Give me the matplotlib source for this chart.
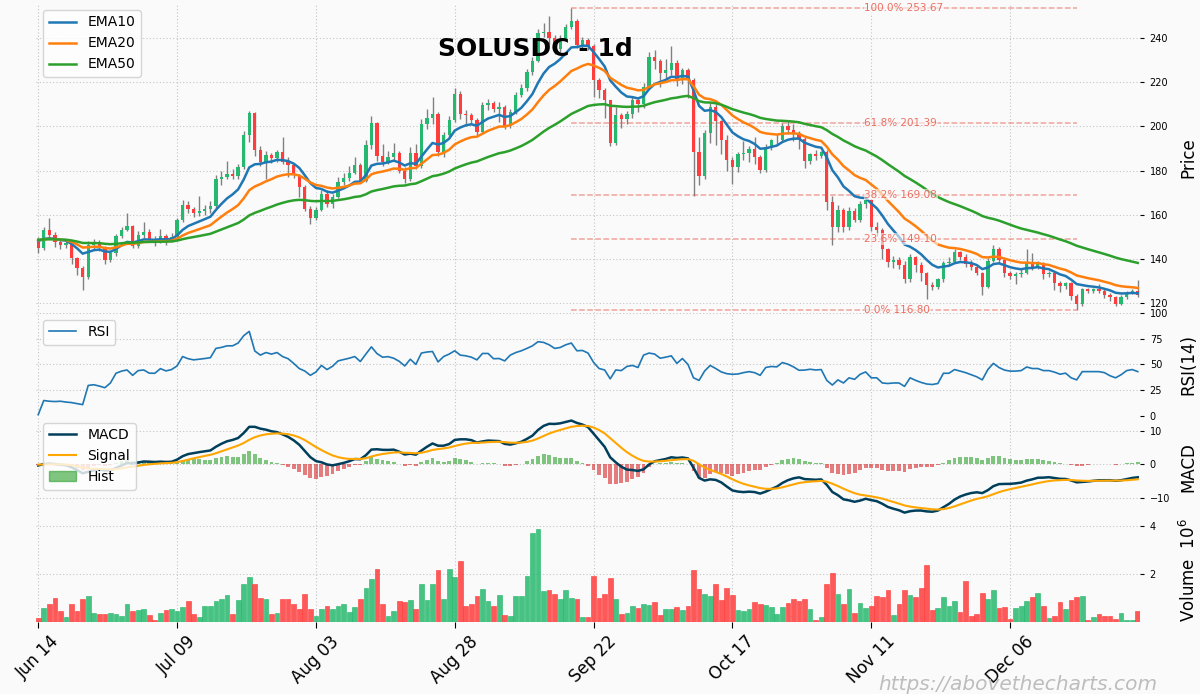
import numpy as np
import pandas as pd
import matplotlib
matplotlib.use('Agg')
import matplotlib.pyplot as plt
from matplotlib.patches import Patch

# SOLUSDC daily bars, 2025-06-14 .. 2025-12-29
start_date = '2025-06-14'
prev_close = 148.8   # close of the bar before the first one, seeds the EMAs

opens = [148.8, 144.8, 153.3, 150.8, 147.8, 146.2, 147.0, 140.2, 135.7, 131.6,
         146.5, 147.6, 145.5, 139.5, 142.5, 150.5, 153.3, 154.8, 146.0, 151.0,
         152.3, 148.5, 148.0, 150.3, 148.3, 150.0, 157.6, 164.6, 162.8, 160.6,
         161.8, 162.6, 164.0, 176.1, 177.3, 178.5, 177.4, 181.7, 196.0, 206.1,
         189.2, 184.0, 187.0, 185.5, 188.5, 184.0, 182.4, 178.0, 172.5, 162.8,
         158.5, 162.3, 169.5, 165.0, 168.0, 175.0, 176.5, 179.0, 182.5, 175.5,
         191.5, 201.5, 186.5, 184.0, 186.0, 188.0, 180.0, 176.0, 188.0, 182.0,
         201.0, 204.0, 205.8, 188.5, 196.0, 203.0, 214.6, 205.8, 205.0, 203.0,
         197.5, 209.6, 210.6, 208.0, 209.0, 200.1, 206.6, 214.4, 217.4, 224.7,
         229.6, 242.5, 242.8, 240.2, 235.2, 239.8, 245.0, 247.8, 236.7, 239.3,
         236.4, 220.9, 216.4, 211.9, 192.6, 205.0, 203.5, 205.5, 212.0, 210.0,
         218.0, 231.5, 229.6, 224.4, 225.4, 228.8, 221.5, 225.5, 220.9, 188.5,
         177.6, 197.1, 209.0, 202.5, 194.0, 185.0, 181.7, 187.7, 188.0, 190.0,
         186.0, 180.2, 190.8, 193.7, 194.0, 200.1, 198.6, 196.8, 194.5, 184.4,
         187.4, 186.8, 188.5, 165.9, 154.3, 162.2, 154.6, 161.5, 157.6, 164.8,
         166.6, 154.5, 153.0, 144.7, 138.7, 139.5, 137.2, 130.7, 141.0, 137.2,
         133.4, 128.1, 127.4, 130.7, 138.2, 138.7, 143.2, 141.0, 137.9, 136.4,
         133.4, 127.1, 139.2, 144.7, 139.5, 133.4, 132.2, 133.1, 133.7, 138.0,
         136.4, 138.0, 133.1, 133.7, 128.9, 127.7, 128.9, 123.2, 119.5, 126.2,
         125.6, 126.2, 125.6, 123.6, 122.6, 119.8, 122.9, 124.7, 125.4]

closes = [144.8, 153.3, 150.8, 147.8, 146.2, 147.0, 140.2, 135.7, 131.6, 146.5,
          147.6, 145.5, 139.5, 142.5, 150.5, 153.3, 154.8, 146.0, 151.0, 152.3,
          148.5, 148.0, 150.3, 148.3, 150.0, 157.6, 164.6, 162.8, 160.6, 161.8,
          162.6, 164.0, 176.1, 177.3, 178.5, 177.4, 181.7, 196.0, 206.1, 189.2,
          184.0, 187.0, 185.5, 188.5, 184.0, 182.4, 178.0, 172.5, 162.8, 158.5,
          162.3, 169.5, 165.0, 168.0, 175.0, 176.5, 179.0, 182.5, 175.5, 191.5,
          201.5, 186.5, 184.0, 186.0, 188.0, 180.0, 176.0, 188.0, 182.0, 201.0,
          204.0, 205.8, 188.5, 196.0, 203.0, 214.6, 205.8, 205.0, 203.0, 197.5,
          209.6, 210.6, 208.0, 209.0, 200.1, 206.6, 214.4, 217.4, 224.7, 229.6,
          242.5, 242.8, 240.2, 235.2, 239.8, 245.0, 247.8, 236.7, 239.3, 236.4,
          220.9, 216.4, 211.9, 192.6, 205.0, 203.5, 205.5, 212.0, 210.0, 218.0,
          231.5, 229.6, 224.4, 225.4, 228.8, 221.5, 225.5, 220.9, 188.5, 177.6,
          197.1, 209.0, 202.5, 194.0, 185.0, 181.7, 187.7, 188.0, 190.0, 186.0,
          180.2, 190.8, 193.7, 194.0, 200.1, 198.6, 196.8, 194.5, 184.4, 187.4,
          186.8, 188.5, 165.9, 154.3, 162.2, 154.6, 161.5, 157.6, 164.8, 166.6,
          154.5, 153.0, 144.7, 138.7, 139.5, 137.2, 130.7, 141.0, 137.2, 133.4,
          128.1, 127.4, 130.7, 138.2, 138.7, 143.2, 141.0, 137.9, 136.4, 133.4,
          127.1, 139.2, 144.7, 139.5, 133.4, 132.2, 133.1, 133.7, 138.0, 136.4,
          138.0, 133.1, 133.7, 128.9, 127.7, 128.9, 123.2, 119.5, 126.2, 125.6,
          126.2, 125.6, 123.6, 122.6, 119.8, 122.9, 124.7, 125.4, 123.6]

highs = [150.0, 154.5, 158.6, 152.0, 148.5, 148.3, 147.8, 140.8, 137.0, 148.0,
         149.0, 148.5, 146.0, 143.8, 151.5, 154.5, 160.6, 155.5, 152.5, 156.5,
         153.5, 150.5, 153.5, 151.5, 151.8, 158.5, 166.5, 166.0, 163.5, 168.5,
         164.5, 166.0, 178.0, 180.0, 184.4, 180.5, 183.0, 198.0, 206.8, 206.5,
         191.0, 189.0, 188.0, 189.5, 195.3, 186.0, 183.0, 178.5, 173.5, 164.0,
         163.5, 171.0, 171.0, 169.5, 177.0, 178.7, 182.0, 186.0, 183.5, 194.0,
         204.5, 202.0, 192.0, 189.0, 192.5, 189.0, 181.5, 190.5, 192.0, 203.5,
         208.0, 213.5, 206.5, 197.5, 204.5, 217.5, 216.0, 207.5, 206.0, 204.0,
         211.0, 212.5, 211.5, 211.0, 209.5, 208.0, 215.5, 219.0, 226.0, 231.5,
         244.0, 247.0, 249.9, 241.5, 241.5, 246.5, 253.67, 248.5, 240.5, 240.0,
         237.5, 222.0, 217.5, 212.0, 208.7, 206.0, 207.0, 213.5, 213.0, 219.5,
         233.5, 234.5, 230.5, 230.5, 236.5, 230.0, 226.5, 226.5, 222.0, 195.0,
         198.5, 210.5, 210.0, 203.0, 196.0, 186.0, 188.5, 193.5, 191.0, 195.0,
         187.0, 192.0, 194.5, 196.5, 201.5, 202.5, 201.0, 198.0, 195.0, 188.0,
         189.5, 189.0, 189.5, 168.5, 164.5, 163.0, 163.5, 163.0, 166.0, 168.0,
         167.0, 156.5, 154.0, 145.0, 141.5, 141.0, 139.0, 142.0, 141.5, 138.5,
         134.0, 129.5, 131.5, 139.0, 141.0, 144.5, 143.5, 142.0, 139.5, 137.0,
         134.0, 140.5, 146.5, 145.5, 140.0, 134.5, 134.0, 135.5, 144.7, 142.5,
         139.0, 138.5, 134.5, 134.5, 130.0, 129.5, 129.5, 124.0, 127.0, 127.0,
         126.8, 128.5, 126.5, 124.5, 123.0, 123.5, 125.5, 126.5, 130.4]

lows = [142.5, 144.0, 149.5, 145.3, 144.5, 145.0, 137.5, 132.8, 125.9, 131.0,
        144.5, 143.5, 137.8, 138.5, 141.5, 149.5, 152.5, 145.0, 145.0, 149.5,
        147.5, 146.0, 147.0, 146.5, 147.5, 149.0, 156.5, 161.0, 159.0, 159.5,
        160.0, 161.0, 163.0, 173.5, 176.0, 176.0, 176.0, 180.5, 193.0, 186.5,
        182.0, 176.2, 183.5, 184.0, 183.0, 177.0, 176.5, 168.0, 161.5, 156.0,
        157.5, 161.5, 163.5, 163.0, 167.5, 173.5, 175.5, 178.5, 174.5, 175.0,
        190.0, 184.5, 182.0, 183.0, 185.0, 179.0, 174.5, 175.5, 180.5, 181.0,
        199.0, 201.0, 186.5, 186.0, 195.0, 202.0, 203.5, 200.0, 201.0, 196.0,
        197.0, 207.5, 206.5, 202.0, 199.0, 199.5, 205.5, 213.5, 216.0, 223.5,
        229.0, 240.5, 237.5, 233.0, 233.5, 238.5, 244.0, 235.5, 235.0, 234.5,
        213.5, 213.0, 204.0, 191.0, 191.5, 199.5, 201.0, 204.0, 206.5, 208.5,
        217.0, 226.0, 218.0, 222.0, 223.5, 218.5, 219.0, 213.0, 168.5, 173.4,
        176.0, 192.5, 191.5, 187.5, 180.0, 174.0, 179.5, 185.0, 184.0, 183.0,
        179.0, 179.5, 189.5, 191.5, 193.0, 196.5, 193.5, 190.0, 181.0, 183.0,
        185.0, 185.5, 162.0, 146.2, 152.0, 152.0, 153.0, 156.5, 156.5, 163.0,
        152.5, 150.5, 140.0, 136.5, 136.0, 135.5, 129.0, 129.5, 134.0, 130.0,
        121.7, 126.0, 126.5, 129.5, 137.0, 138.0, 139.5, 136.5, 135.0, 132.5,
        123.6, 127.0, 138.5, 138.0, 132.0, 131.0, 128.5, 132.0, 133.0, 135.0,
        135.5, 131.0, 132.0, 126.0, 125.0, 126.5, 121.5, 116.8, 118.5, 124.5,
        124.5, 124.5, 122.5, 121.0, 118.5, 119.0, 122.0, 124.0, 122.8]

# volume in millions
volumes = [0.17, 0.59, 0.73, 1.01, 0.46, 0.21, 0.73, 0.46, 0.97, 1.07,
           0.38, 0.34, 0.34, 0.38, 0.35, 0.24, 0.76, 0.46, 0.49, 0.55,
           0.30, 0.07, 0.38, 0.48, 0.55, 0.46, 0.62, 0.87, 0.34, 0.22,
           0.67, 0.65, 0.86, 0.94, 1.11, 0.34, 0.90, 1.56, 1.87, 1.60,
           1.00, 0.96, 0.34, 0.38, 0.94, 0.94, 0.73, 0.52, 1.18, 0.55,
           0.25, 0.55, 0.66, 0.55, 0.65, 0.73, 0.42, 0.62, 0.94, 1.42,
           1.77, 2.19, 0.76, 0.27, 0.45, 0.87, 0.84, 0.90, 0.55, 1.58,
           0.90, 1.60, 2.15, 0.97, 2.19, 1.85, 2.54, 0.67, 0.73, 1.08,
           1.39, 0.86, 0.66, 1.14, 0.30, 0.27, 1.07, 1.07, 1.91, 3.71,
           3.87, 1.28, 1.32, 1.18, 0.97, 1.35, 1.01, 0.97, 0.20, 0.20,
           1.91, 1.01, 1.18, 1.81, 0.97, 0.34, 0.39, 0.66, 0.59, 0.76,
           0.72, 0.84, 0.30, 0.52, 0.55, 0.62, 0.48, 0.66, 2.16, 1.39,
           1.18, 1.08, 1.60, 0.93, 1.42, 1.14, 0.48, 0.45, 0.55, 0.84,
           0.76, 0.69, 0.62, 0.34, 0.62, 0.80, 0.94, 0.86, 0.97, 0.55,
           0.10, 0.20, 1.60, 2.05, 1.18, 0.76, 1.39, 0.38, 0.80, 0.59,
           0.66, 1.08, 1.04, 1.35, 0.30, 0.73, 1.32, 1.14, 1.04, 1.42,
           2.36, 0.48, 0.59, 1.04, 0.66, 0.86, 0.42, 1.70, 0.27, 0.34,
           1.22, 0.94, 1.35, 0.59, 0.62, 0.13, 0.59, 0.65, 0.86, 1.04,
           1.22, 0.66, 0.17, 0.27, 0.84, 0.52, 0.93, 1.04, 1.08, 0.08,
           0.20, 0.34, 0.27, 0.24, 0.13, 0.38, 0.08, 0.08, 0.45]

rsi = [1.3, 15.0, 14.3, 14.0, 14.3, 13.5, 13.0, 12.0, 11.0, 29.6,
       30.3, 29.0, 27.4, 32.0, 41.4, 43.5, 44.6, 39.4, 44.0, 44.6,
       41.5, 41.4, 45.9, 43.7, 45.0, 48.5, 57.6, 55.5, 54.4, 55.0,
       55.7, 56.5, 65.5, 66.5, 68.0, 68.0, 70.7, 77.8, 82.0, 63.0,
       59.0, 61.5, 60.0, 61.5, 57.6, 55.5, 51.0, 46.0, 43.6, 39.4,
       42.6, 49.0, 45.0, 48.2, 53.4, 54.7, 56.0, 57.6, 52.8, 60.0,
       67.0, 60.5, 57.0, 57.5, 56.0, 53.0, 48.5, 55.0, 50.0, 61.0,
       62.0, 62.5, 52.4, 57.6, 60.0, 63.2, 59.0, 58.3, 57.0, 54.4,
       60.6, 60.6, 55.5, 55.7, 53.4, 59.0, 61.5, 63.2, 65.5, 68.0,
       72.0, 71.3, 69.0, 65.5, 66.4, 69.0, 70.7, 63.2, 63.5, 61.0,
       52.0, 46.0, 44.6, 36.0, 44.6, 44.0, 48.0, 49.0, 47.0, 59.0,
       61.0, 60.0, 56.0, 57.0, 58.3, 51.0, 55.7, 50.0, 37.0, 34.5,
       43.6, 49.0, 46.0, 42.7, 41.0, 40.4, 40.7, 42.0, 43.0, 42.0,
       39.4, 47.0, 48.0, 47.6, 51.8, 50.2, 47.6, 44.3, 44.5, 45.3,
       44.6, 45.0, 34.5, 30.0, 35.0, 32.0, 37.0, 35.5, 40.4, 42.7,
       37.0, 37.0, 32.0, 31.5, 32.0, 32.0, 28.7, 37.0, 34.5, 32.5,
       31.0, 30.5, 31.5, 41.4, 41.4, 45.0, 43.5, 42.0, 40.0, 38.0,
       35.0, 45.0, 51.0, 47.0, 44.5, 43.5, 43.5, 44.0, 47.5, 46.0,
       46.0, 44.0, 44.0, 42.5, 40.5, 41.5, 37.0, 35.0, 43.0, 43.0,
       43.0, 43.0, 42.0, 39.0, 37.0, 40.0, 44.0, 45.0, 43.0]

fib_ratios = [1.0, 0.618, 0.382, 0.236, 0.0]

# ---------------------------------------------------------------
n = len(closes)
x = np.arange(n)
o = np.array(opens); c = np.array(closes)
h = np.array(highs); l = np.array(lows)
vol = np.array(volumes)
dates = pd.date_range(start_date, periods=n, freq='D')

seeded = pd.Series([prev_close] + closes)
ema = {k: seeded.ewm(span=k, adjust=False).mean().values[1:] for k in (10, 20, 50)}
macd_full = seeded.ewm(span=12, adjust=False).mean() - seeded.ewm(span=26, adjust=False).mean()
signal_full = macd_full.ewm(span=9, adjust=False).mean()
macd = macd_full.values[1:]
signal = signal_full.values[1:]
hist = macd - signal

up_c = '#26b86e'
dn_c = '#ff3d3d'
bg = '#fafafa'
colors = np.where(c >= o, up_c, dn_c)

fig = plt.figure(figsize=(12, 6.94), dpi=100, facecolor=bg)
L, W = 36/1200, 1104/1200
ph = 103.2/694
ax1 = fig.add_axes([L, 1-313/694, W, 310/694])
ax2 = fig.add_axes([L, 1-416/694, W, ph], sharex=ax1)
ax3 = fig.add_axes([L, 1-519/694, W, ph], sharex=ax1)
ax4 = fig.add_axes([L, 1-622/694, W, ph], sharex=ax1)

tick_idx = list(range(0, n, 25))
for ax in (ax1, ax2, ax3, ax4):
    ax.set_facecolor(bg)
    for s in ax.spines.values():
        s.set_visible(False)
    ax.grid(True, linestyle=(0, (1, 2)), color='#c4c4c4', linewidth=0.8)
    ax.set_axisbelow(True)
    ax.yaxis.tick_right()
    ax.yaxis.set_label_position('right')
    ax.tick_params(axis='y', labelsize=7, length=3, pad=4)
    ax.tick_params(axis='x', length=4)
    ax.set_xticks(tick_idx)
    ax.yaxis.set_label_coords(1.0355, 0.5)
ax1.set_xlim(-0.4, 198.4)
for ax in (ax1, ax2, ax3):
    ax.tick_params(axis='x', labelbottom=False, length=0)

# price panel
ax1.vlines(x, l, h, color='#808080', linewidth=1, zorder=2)
body = np.maximum(np.abs(c - o), 0.35)
ax1.bar(x, body, bottom=np.minimum(o, c), width=0.6, color=colors, zorder=3)
ax1.plot(x, ema[10], color='#1f77b4', lw=1.8, label='EMA10', zorder=4)
ax1.plot(x, ema[20], color='#ff7f0e', lw=1.8, label='EMA20', zorder=4)
ax1.plot(x, ema[50], color='#2ca02c', lw=1.8, label='EMA50', zorder=4)

hi_i, lo_i = int(np.argmax(h)), int(np.argmin(l))
hi, lo = h[hi_i], l[lo_i]
for r in fib_ratios:
    lvl = lo + r * (hi - lo)
    ax1.hlines(lvl, hi_i, lo_i, colors='#e74c3c', linestyles='--', lw=1.1, alpha=0.5, zorder=3)
    ax1.text(hi_i + 0.58 * (lo_i - hi_i), lvl, f'{r*100:.1f}% {lvl:.2f}', color='#e74c3c',
             alpha=0.8, fontsize=7.5, ha='left', va='center', zorder=5,
             bbox=dict(facecolor=bg, alpha=0.6, edgecolor='none', pad=0.5))

ax1.set_ylim(115.5, 255.9)
ax1.set_yticks([120, 140, 160, 180, 200, 220, 240])
ax1.set_ylabel('Price', fontsize=12)
ax1.legend(loc='upper left', fontsize=10)

# RSI panel
ax2.plot(x, rsi, color='#1f77b4', lw=1.2, label='RSI')
ax2.set_ylim(0, 100)
ax2.set_yticks([0, 25, 50, 75, 100])
ax2.set_ylabel('RSI(14)', fontsize=12)
ax2.legend(loc='upper left', fontsize=10)

# MACD panel
hcol = np.where(hist >= 0, '#2ca02c', '#d62728')
ax3.bar(x, hist, width=0.7, color=hcol, alpha=0.6, zorder=2)
ax3.plot(x, macd, color='#003f5c', lw=1.8, label='MACD', zorder=3)
ax3.plot(x, signal, color='#ffa600', lw=1.5, label='Signal', zorder=3)
ax3.set_ylim(-16.5, 14.7)
ax3.set_yticks([-10, 0, 10])
ax3.set_ylabel('MACD', fontsize=12)
handles, labels = ax3.get_legend_handles_labels()
handles.append(Patch(facecolor='#2ca02c', edgecolor='#2ca02c', alpha=0.6))
labels.append('Hist')
ax3.legend(handles, labels, loc='upper left', fontsize=10)

# volume panel
ax4.bar(x, vol, width=0.85, color=colors, alpha=0.85, edgecolor=colors, linewidth=0.5)
ax4.set_ylim(0, 4.29)
ax4.set_yticks([2, 4])
ax4.set_ylabel('Volume  $10^{6}$', fontsize=12)
ax4.set_xticklabels([d.strftime('%b %d') for d in dates[tick_idx]], rotation=45, fontsize=12)

fig.text(535/1200, 1-49/694, 'SOLUSDC - 1d', ha='center', va='center',
         fontsize=18, fontweight='bold')
fig.text(1157/1200, 1-684/694, 'https://abovethecharts.com', ha='right', va='center',
         fontsize=14.5, style='italic', color='#bdbdbd')

fig.savefig('out.png', dpi=100, facecolor=bg)
